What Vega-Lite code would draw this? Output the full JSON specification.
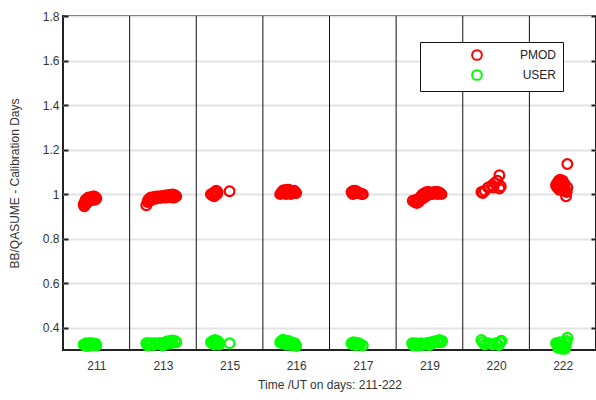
{
  "$schema": "https://vega.github.io/schema/vega-lite/v6.json",
  "width": 533,
  "height": 334,
  "autosize": {"type": "none"},
  "padding": {"left": 63, "top": 16, "right": 0, "bottom": 50},
  "background": "white",
  "config": {
    "view": {"stroke": "#222222", "strokeWidth": 2},
    "font": "Liberation Sans",
    "axis": {
      "labelFont": "Liberation Sans",
      "titleFont": "Liberation Sans",
      "labelFontSize": 12,
      "titleFontSize": 12,
      "titleFontWeight": "normal",
      "labelColor": "#333333",
      "titleColor": "#333333"
    },
    "legend": {
      "labelFont": "Liberation Sans"
    }
  },
  "datasets": {
    "pts": [
      {"x": 0.31, "v": 0.955, "series": "PMOD"}, {"x": 0.32, "v": 0.945, "series": "PMOD"}, {"x": 0.33, "v": 0.965, "series": "PMOD"}, {"x": 0.35, "v": 0.97, "series": "PMOD"}, {"x": 0.37, "v": 0.975, "series": "PMOD"}, {"x": 0.39, "v": 0.98, "series": "PMOD"}, {"x": 0.41, "v": 0.985, "series": "PMOD"}, {"x": 0.43, "v": 0.985, "series": "PMOD"}, {"x": 0.45, "v": 0.99, "series": "PMOD"}, {"x": 0.47, "v": 0.99, "series": "PMOD"}, {"x": 0.49, "v": 0.985, "series": "PMOD"}, {"x": 0.50, "v": 0.98, "series": "PMOD"}, {"x": 0.48, "v": 0.975, "series": "PMOD"}, {"x": 0.44, "v": 0.975, "series": "PMOD"}, {"x": 0.40, "v": 0.97, "series": "PMOD"}, {"x": 0.36, "v": 0.96, "series": "PMOD"},
      {"x": 0.34, "v": 0.975, "series": "PMOD"}, {"x": 0.38, "v": 0.985, "series": "PMOD"}, {"x": 0.42, "v": 0.975, "series": "PMOD"}, {"x": 0.46, "v": 0.98, "series": "PMOD"}, {"x": 0.33, "v": 0.955, "series": "PMOD"},
      {"x": 1.25, "v": 0.95, "series": "PMOD"}, {"x": 1.27, "v": 0.965, "series": "PMOD"}, {"x": 1.28, "v": 0.975, "series": "PMOD"}, {"x": 1.30, "v": 0.98, "series": "PMOD"}, {"x": 1.32, "v": 0.985, "series": "PMOD"}, {"x": 1.35, "v": 0.985, "series": "PMOD"}, {"x": 1.38, "v": 0.988, "series": "PMOD"}, {"x": 1.41, "v": 0.99, "series": "PMOD"}, {"x": 1.44, "v": 0.99, "series": "PMOD"}, {"x": 1.47, "v": 0.99, "series": "PMOD"}, {"x": 1.50, "v": 0.992, "series": "PMOD"}, {"x": 1.53, "v": 0.993, "series": "PMOD"}, {"x": 1.56, "v": 0.995, "series": "PMOD"}, {"x": 1.59, "v": 0.995, "series": "PMOD"}, {"x": 1.62, "v": 0.997, "series": "PMOD"}, {"x": 1.65, "v": 0.998, "series": "PMOD"}, {"x": 1.68, "v": 0.995, "series": "PMOD"}, {"x": 1.70, "v": 0.99, "series": "PMOD"}, {"x": 1.36, "v": 0.978, "series": "PMOD"}, {"x": 1.46, "v": 0.982, "series": "PMOD"}, {"x": 1.56, "v": 0.985, "series": "PMOD"}, {"x": 1.64, "v": 0.985, "series": "PMOD"},
      {"x": 1.31, "v": 0.97, "series": "PMOD"}, {"x": 1.40, "v": 0.98, "series": "PMOD"}, {"x": 1.52, "v": 0.985, "series": "PMOD"}, {"x": 1.60, "v": 0.99, "series": "PMOD"}, {"x": 1.67, "v": 0.985, "series": "PMOD"},
      {"x": 2.22, "v": 1.0, "series": "PMOD"}, {"x": 2.24, "v": 0.995, "series": "PMOD"}, {"x": 2.26, "v": 1.005, "series": "PMOD"}, {"x": 2.28, "v": 1.01, "series": "PMOD"}, {"x": 2.30, "v": 1.015, "series": "PMOD"}, {"x": 2.32, "v": 1.01, "series": "PMOD"}, {"x": 2.31, "v": 1.0, "series": "PMOD"}, {"x": 2.27, "v": 0.99, "series": "PMOD"}, {"x": 2.50, "v": 1.013, "series": "PMOD"},
      {"x": 3.26, "v": 1.0, "series": "PMOD"}, {"x": 3.28, "v": 1.005, "series": "PMOD"}, {"x": 3.30, "v": 1.01, "series": "PMOD"}, {"x": 3.33, "v": 1.015, "series": "PMOD"}, {"x": 3.36, "v": 1.02, "series": "PMOD"}, {"x": 3.39, "v": 1.02, "series": "PMOD"}, {"x": 3.42, "v": 1.015, "series": "PMOD"}, {"x": 3.45, "v": 1.01, "series": "PMOD"}, {"x": 3.48, "v": 1.01, "series": "PMOD"}, {"x": 3.50, "v": 1.005, "series": "PMOD"}, {"x": 3.35, "v": 1.0, "series": "PMOD"}, {"x": 3.42, "v": 1.0, "series": "PMOD"},
      {"x": 3.29, "v": 1.012, "series": "PMOD"}, {"x": 3.32, "v": 1.005, "series": "PMOD"}, {"x": 3.38, "v": 1.01, "series": "PMOD"}, {"x": 3.44, "v": 1.005, "series": "PMOD"}, {"x": 3.47, "v": 1.015, "series": "PMOD"}, {"x": 3.31, "v": 1.018, "series": "PMOD"},
      {"x": 4.33, "v": 1.01, "series": "PMOD"}, {"x": 4.36, "v": 1.015, "series": "PMOD"}, {"x": 4.39, "v": 1.015, "series": "PMOD"}, {"x": 4.42, "v": 1.01, "series": "PMOD"}, {"x": 4.45, "v": 1.005, "series": "PMOD"}, {"x": 4.48, "v": 1.0, "series": "PMOD"}, {"x": 4.50, "v": 1.0, "series": "PMOD"},
      {"x": 4.37, "v": 1.005, "series": "PMOD"}, {"x": 4.41, "v": 1.005, "series": "PMOD"}, {"x": 4.35, "v": 1.0, "series": "PMOD"},
      {"x": 5.25, "v": 0.97, "series": "PMOD"}, {"x": 5.28, "v": 0.965, "series": "PMOD"}, {"x": 5.31, "v": 0.96, "series": "PMOD"}, {"x": 5.33, "v": 0.97, "series": "PMOD"}, {"x": 5.35, "v": 0.98, "series": "PMOD"}, {"x": 5.37, "v": 0.99, "series": "PMOD"}, {"x": 5.40, "v": 1.0, "series": "PMOD"}, {"x": 5.43, "v": 1.005, "series": "PMOD"}, {"x": 5.46, "v": 1.01, "series": "PMOD"}, {"x": 5.49, "v": 1.01, "series": "PMOD"}, {"x": 5.52, "v": 1.005, "series": "PMOD"}, {"x": 5.55, "v": 1.0, "series": "PMOD"}, {"x": 5.58, "v": 1.005, "series": "PMOD"}, {"x": 5.60, "v": 1.01, "series": "PMOD"}, {"x": 5.63, "v": 1.01, "series": "PMOD"}, {"x": 5.66, "v": 1.005, "series": "PMOD"}, {"x": 5.68, "v": 1.0, "series": "PMOD"}, {"x": 5.45, "v": 0.99, "series": "PMOD"}, {"x": 5.40, "v": 0.98, "series": "PMOD"},
      {"x": 5.30, "v": 0.975, "series": "PMOD"}, {"x": 5.42, "v": 0.995, "series": "PMOD"}, {"x": 5.50, "v": 1.0, "series": "PMOD"}, {"x": 5.57, "v": 1.01, "series": "PMOD"}, {"x": 5.62, "v": 1.0, "series": "PMOD"}, {"x": 5.34, "v": 0.965, "series": "PMOD"},
      {"x": 6.28, "v": 1.01, "series": "PMOD"}, {"x": 6.30, "v": 1.005, "series": "PMOD"}, {"x": 6.33, "v": 1.015, "series": "PMOD"}, {"x": 6.38, "v": 1.03, "series": "PMOD"}, {"x": 6.44, "v": 1.04, "series": "PMOD"}, {"x": 6.48, "v": 1.05, "series": "PMOD"}, {"x": 6.52, "v": 1.06, "series": "PMOD"}, {"x": 6.55, "v": 1.085, "series": "PMOD"}, {"x": 6.57, "v": 1.035, "series": "PMOD"}, {"x": 6.55, "v": 1.025, "series": "PMOD"}, {"x": 6.46, "v": 1.03, "series": "PMOD"},
      {"x": 7.40, "v": 1.04, "series": "PMOD"}, {"x": 7.42, "v": 1.05, "series": "PMOD"}, {"x": 7.44, "v": 1.06, "series": "PMOD"}, {"x": 7.46, "v": 1.065, "series": "PMOD"}, {"x": 7.48, "v": 1.05, "series": "PMOD"}, {"x": 7.50, "v": 1.04, "series": "PMOD"}, {"x": 7.52, "v": 1.03, "series": "PMOD"}, {"x": 7.54, "v": 1.02, "series": "PMOD"}, {"x": 7.56, "v": 1.01, "series": "PMOD"}, {"x": 7.55, "v": 0.99, "series": "PMOD"}, {"x": 7.45, "v": 1.02, "series": "PMOD"}, {"x": 7.42, "v": 1.03, "series": "PMOD"}, {"x": 7.50, "v": 1.06, "series": "PMOD"}, {"x": 7.57, "v": 1.03, "series": "PMOD"}, {"x": 7.57, "v": 1.135, "series": "PMOD"},
      {"x": 7.41, "v": 1.045, "series": "PMOD"}, {"x": 7.47, "v": 1.04, "series": "PMOD"}, {"x": 7.51, "v": 1.05, "series": "PMOD"}, {"x": 7.53, "v": 1.045, "series": "PMOD"}, {"x": 7.44, "v": 1.035, "series": "PMOD"}, {"x": 7.49, "v": 1.025, "series": "PMOD"}, {"x": 7.53, "v": 1.015, "series": "PMOD"},
      {"x": 0.31, "v": 0.325, "series": "USER"}, {"x": 0.33, "v": 0.32, "series": "USER"}, {"x": 0.35, "v": 0.33, "series": "USER"}, {"x": 0.38, "v": 0.325, "series": "USER"}, {"x": 0.41, "v": 0.32, "series": "USER"}, {"x": 0.44, "v": 0.33, "series": "USER"}, {"x": 0.47, "v": 0.325, "series": "USER"}, {"x": 0.50, "v": 0.32, "series": "USER"}, {"x": 0.40, "v": 0.33, "series": "USER"}, {"x": 0.36, "v": 0.318, "series": "USER"},
      {"x": 0.34, "v": 0.325, "series": "USER"}, {"x": 0.39, "v": 0.322, "series": "USER"}, {"x": 0.43, "v": 0.325, "series": "USER"}, {"x": 0.46, "v": 0.322, "series": "USER"}, {"x": 0.49, "v": 0.328, "series": "USER"},
      {"x": 1.25, "v": 0.33, "series": "USER"}, {"x": 1.27, "v": 0.32, "series": "USER"}, {"x": 1.30, "v": 0.325, "series": "USER"}, {"x": 1.33, "v": 0.33, "series": "USER"}, {"x": 1.36, "v": 0.322, "series": "USER"}, {"x": 1.40, "v": 0.328, "series": "USER"}, {"x": 1.44, "v": 0.33, "series": "USER"}, {"x": 1.48, "v": 0.325, "series": "USER"}, {"x": 1.52, "v": 0.333, "series": "USER"}, {"x": 1.56, "v": 0.338, "series": "USER"}, {"x": 1.60, "v": 0.34, "series": "USER"}, {"x": 1.64, "v": 0.343, "series": "USER"}, {"x": 1.68, "v": 0.34, "series": "USER"}, {"x": 1.70, "v": 0.335, "series": "USER"}, {"x": 1.62, "v": 0.33, "series": "USER"}, {"x": 1.50, "v": 0.32, "series": "USER"},
      {"x": 1.29, "v": 0.33, "series": "USER"}, {"x": 1.38, "v": 0.33, "series": "USER"}, {"x": 1.46, "v": 0.33, "series": "USER"}, {"x": 1.55, "v": 0.328, "series": "USER"}, {"x": 1.63, "v": 0.335, "series": "USER"}, {"x": 1.58, "v": 0.33, "series": "USER"},
      {"x": 2.22, "v": 0.335, "series": "USER"}, {"x": 2.25, "v": 0.34, "series": "USER"}, {"x": 2.28, "v": 0.345, "series": "USER"}, {"x": 2.30, "v": 0.34, "series": "USER"}, {"x": 2.33, "v": 0.335, "series": "USER"}, {"x": 2.34, "v": 0.325, "series": "USER"}, {"x": 2.27, "v": 0.325, "series": "USER"}, {"x": 2.50, "v": 0.33, "series": "USER"},
      {"x": 2.24, "v": 0.33, "series": "USER"}, {"x": 2.29, "v": 0.33, "series": "USER"}, {"x": 2.32, "v": 0.34, "series": "USER"},
      {"x": 3.26, "v": 0.335, "series": "USER"}, {"x": 3.28, "v": 0.34, "series": "USER"}, {"x": 3.31, "v": 0.345, "series": "USER"}, {"x": 3.34, "v": 0.34, "series": "USER"}, {"x": 3.37, "v": 0.335, "series": "USER"}, {"x": 3.40, "v": 0.33, "series": "USER"}, {"x": 3.43, "v": 0.33, "series": "USER"}, {"x": 3.46, "v": 0.325, "series": "USER"}, {"x": 3.49, "v": 0.322, "series": "USER"}, {"x": 3.50, "v": 0.318, "series": "USER"}, {"x": 3.35, "v": 0.325, "series": "USER"},
      {"x": 3.29, "v": 0.33, "series": "USER"}, {"x": 3.33, "v": 0.33, "series": "USER"}, {"x": 3.39, "v": 0.34, "series": "USER"}, {"x": 3.45, "v": 0.33, "series": "USER"}, {"x": 3.48, "v": 0.33, "series": "USER"}, {"x": 3.42, "v": 0.322, "series": "USER"}, {"x": 3.30, "v": 0.345, "series": "USER"},
      {"x": 4.33, "v": 0.33, "series": "USER"}, {"x": 4.36, "v": 0.335, "series": "USER"}, {"x": 4.39, "v": 0.333, "series": "USER"}, {"x": 4.42, "v": 0.33, "series": "USER"}, {"x": 4.46, "v": 0.325, "series": "USER"}, {"x": 4.50, "v": 0.32, "series": "USER"}, {"x": 4.40, "v": 0.322, "series": "USER"},
      {"x": 4.35, "v": 0.325, "series": "USER"}, {"x": 4.44, "v": 0.33, "series": "USER"}, {"x": 4.38, "v": 0.328, "series": "USER"},
      {"x": 5.24, "v": 0.33, "series": "USER"}, {"x": 5.27, "v": 0.325, "series": "USER"}, {"x": 5.30, "v": 0.322, "series": "USER"}, {"x": 5.33, "v": 0.325, "series": "USER"}, {"x": 5.37, "v": 0.33, "series": "USER"}, {"x": 5.41, "v": 0.328, "series": "USER"}, {"x": 5.45, "v": 0.33, "series": "USER"}, {"x": 5.49, "v": 0.333, "series": "USER"}, {"x": 5.53, "v": 0.335, "series": "USER"}, {"x": 5.57, "v": 0.338, "series": "USER"}, {"x": 5.61, "v": 0.34, "series": "USER"}, {"x": 5.65, "v": 0.345, "series": "USER"}, {"x": 5.69, "v": 0.34, "series": "USER"}, {"x": 5.35, "v": 0.32, "series": "USER"}, {"x": 5.50, "v": 0.322, "series": "USER"},
      {"x": 5.29, "v": 0.33, "series": "USER"}, {"x": 5.39, "v": 0.322, "series": "USER"}, {"x": 5.47, "v": 0.325, "series": "USER"}, {"x": 5.55, "v": 0.33, "series": "USER"}, {"x": 5.63, "v": 0.335, "series": "USER"}, {"x": 5.67, "v": 0.335, "series": "USER"}, {"x": 5.26, "v": 0.32, "series": "USER"},
      {"x": 6.28, "v": 0.345, "series": "USER"}, {"x": 6.30, "v": 0.335, "series": "USER"}, {"x": 6.33, "v": 0.325, "series": "USER"}, {"x": 6.38, "v": 0.33, "series": "USER"}, {"x": 6.45, "v": 0.325, "series": "USER"}, {"x": 6.50, "v": 0.33, "series": "USER"}, {"x": 6.54, "v": 0.322, "series": "USER"}, {"x": 6.58, "v": 0.342, "series": "USER"}, {"x": 6.56, "v": 0.335, "series": "USER"},
      {"x": 7.40, "v": 0.33, "series": "USER"}, {"x": 7.42, "v": 0.325, "series": "USER"}, {"x": 7.45, "v": 0.32, "series": "USER"}, {"x": 7.48, "v": 0.315, "series": "USER"}, {"x": 7.50, "v": 0.31, "series": "USER"}, {"x": 7.52, "v": 0.32, "series": "USER"}, {"x": 7.55, "v": 0.33, "series": "USER"}, {"x": 7.56, "v": 0.34, "series": "USER"}, {"x": 7.53, "v": 0.305, "series": "USER"}, {"x": 7.57, "v": 0.355, "series": "USER"}, {"x": 7.46, "v": 0.335, "series": "USER"},
      {"x": 7.43, "v": 0.31, "series": "USER"}, {"x": 7.47, "v": 0.325, "series": "USER"}, {"x": 7.50, "v": 0.32, "series": "USER"}, {"x": 7.54, "v": 0.315, "series": "USER"}, {"x": 7.44, "v": 0.315, "series": "USER"}, {"x": 7.48, "v": 0.305, "series": "USER"}
    ],
    "seps": [{"b": 1}, {"b": 2}, {"b": 3}, {"b": 4}, {"b": 5}, {"b": 6}, {"b": 7}]
  },
  "layer": [
    {
      "data": {"name": "seps"},
      "mark": {"type": "rule", "color": "#111111", "strokeWidth": 1},
      "encoding": {
        "x": {"field": "b", "type": "quantitative", "scale": {"domain": [0, 8], "nice": false, "zero": false},
          "axis": {"values": [0.5, 1.5, 2.5, 3.5, 4.5, 5.5, 6.5, 7.5], "labelExpr": "['211','213','215','216','217','219','220','222'][floor(datum.value)]", "title": "Time /UT on days: 211-222", "ticks": false, "grid": false, "domain": false, "labelPadding": 10, "titlePadding": 8}}
      }
    },
    {
      "data": {"name": "pts"},
      "mark": {"type": "point", "shape": "circle", "filled": false, "size": 95, "strokeWidth": 2.2, "opacity": 1, "clip": false},
      "encoding": {
        "x": {"field": "x", "type": "quantitative"},
        "y": {"field": "v", "type": "quantitative", "scale": {"domain": [0.3, 1.8], "nice": false, "zero": false},
          "axis": {"values": [0.4, 0.6, 0.8, 1.0, 1.2, 1.4, 1.6, 1.8], "format": ".1~f", "title": "BB/QASUME - Calibration Days", "tickSize": -5, "tickColor": "#222222", "tickWidth": 2, "labelPadding": 9, "titlePadding": 21, "domain": false, "grid": true, "gridColor": "#e3e3e3", "gridWidth": 2}},
        "color": {"field": "series", "type": "nominal", "scale": {"domain": ["PMOD", "USER"], "range": ["#ff0000", "#00ff00"]},
          "legend": {"title": null, "orient": "none", "legendX": 357, "legendY": 26, "fillColor": "white", "strokeColor": "#111111", "padding": 7, "symbolOffset": 44, "symbolSize": 95, "symbolStrokeWidth": 2, "symbolType": "circle", "labelAlign": "right", "labelOffset": 73, "labelFontSize": 12, "labelColor": "#222222", "rowPadding": 2,
            "encode": {"legend": {"update": {"strokeWidth": {"value": 2}}}}}}
      }
    },
    {
      "data": {"name": "pts"},
      "mark": {"type": "point", "opacity": 0},
      "encoding": {
        "y": {"field": "v", "type": "quantitative",
          "axis": {"orient": "right", "values": [0.4, 0.6, 0.8, 1.0, 1.2, 1.4, 1.6, 1.8], "labels": false, "title": null, "tickSize": -5, "tickColor": "#222222", "tickWidth": 2, "domain": false, "grid": false}}
      }
    }
  ],
  "resolve": {"axis": {"y": "independent"}}
}
